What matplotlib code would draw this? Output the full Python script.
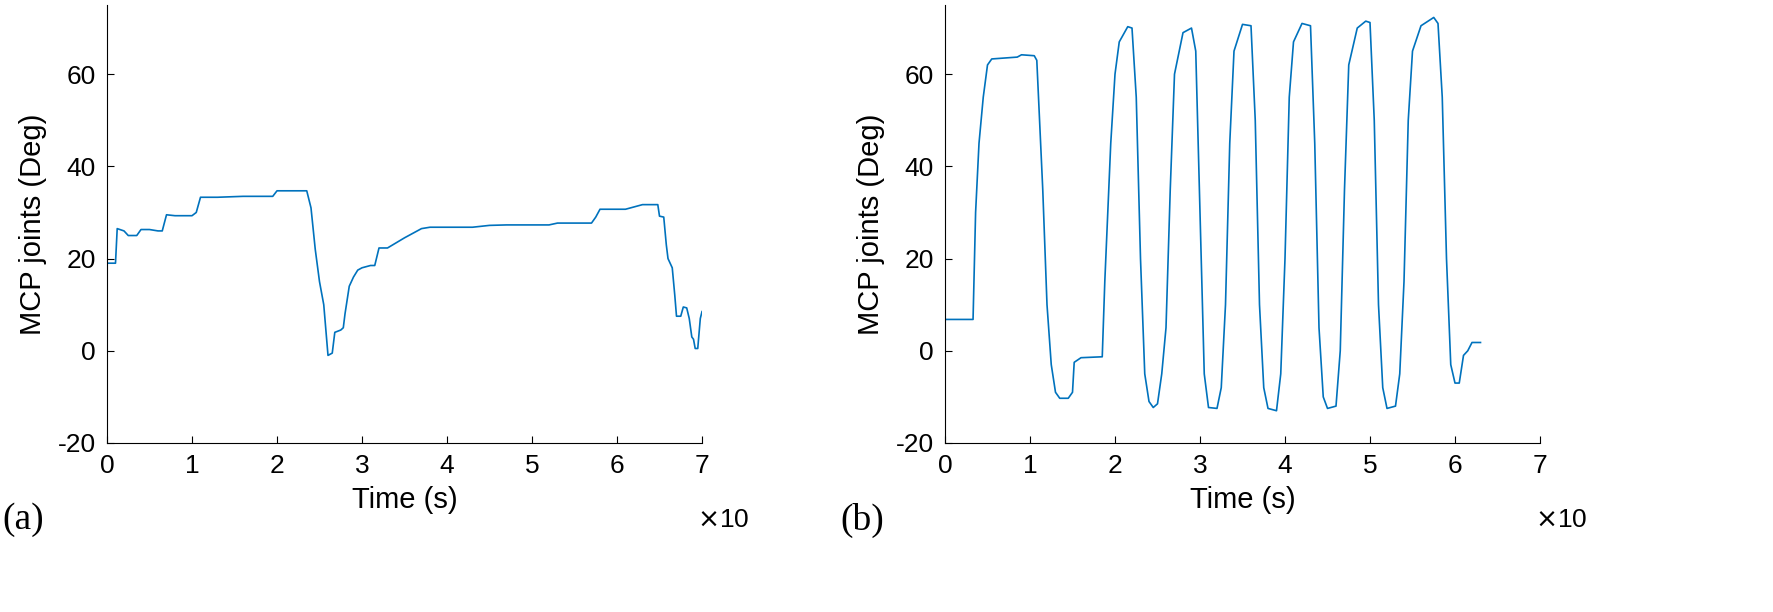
import matplotlib.pyplot as plt
import numpy as np

t_a = [0, 0.1, 0.12, 0.2, 0.25, 0.35, 0.4, 0.5, 0.6, 0.65, 0.7, 0.8, 1.0, 1.05, 1.1, 1.3, 1.6, 1.95, 2.0,
       2.35, 2.4, 2.45, 2.5, 2.55, 2.6, 2.65, 2.68, 2.75, 2.78, 2.8, 2.85, 2.9, 2.95, 3.0, 3.1, 3.15, 3.2,
       3.3, 3.5, 3.7, 3.8, 4.3, 4.5, 4.7, 5.0, 5.2, 5.3, 5.7, 5.75, 5.8, 6.1, 6.3, 6.48, 6.5, 6.55, 6.58,
       6.6, 6.65, 6.68, 6.7, 6.75, 6.78, 6.82, 6.85, 6.88, 6.9, 6.92, 6.95, 6.98, 7.0]
mcp_a = [19, 19, 26.5, 26, 25, 25, 26.3, 26.3, 26, 26, 29.5, 29.3, 29.3, 30, 33.3, 33.3, 33.5, 33.5, 34.7,
         34.7, 31, 22, 15, 10, -1, -0.5, 4, 4.5, 5, 8, 14, 16, 17.5, 18, 18.5, 18.5, 22.3,
         22.3, 24.5, 26.5, 26.8, 26.8, 27.2, 27.3, 27.3, 27.3, 27.7, 27.7, 29, 30.7, 30.7, 31.7, 31.7, 29.2, 29, 23,
         20, 18, 12, 7.5, 7.5, 9.5, 9.3, 7, 3, 2.5, 0.5, 0.5, 7, 8.5]

t_b = [0, 0.33, 0.36, 0.4, 0.45, 0.5, 0.55, 0.7, 0.85, 0.9, 1.05, 1.08, 1.15, 1.2, 1.25, 1.3, 1.35, 1.45,
       1.5, 1.52, 1.6, 1.85, 1.88, 1.95, 2.0, 2.05, 2.15, 2.2, 2.25, 2.3, 2.35, 2.4, 2.45, 2.5, 2.55, 2.6,
       2.65, 2.7, 2.8, 2.9, 2.95, 3.0, 3.05, 3.1, 3.2, 3.25, 3.3, 3.35, 3.4, 3.5, 3.6, 3.65, 3.7, 3.75,
       3.8, 3.9, 3.95, 4.0, 4.05, 4.1, 4.2, 4.3, 4.35, 4.4, 4.45, 4.5, 4.6, 4.65, 4.7, 4.75, 4.85, 4.95,
       5.0, 5.05, 5.1, 5.15, 5.2, 5.3, 5.35, 5.4, 5.45, 5.5, 5.6, 5.75, 5.8, 5.85, 5.9, 5.95, 6.0, 6.05,
       6.1, 6.15, 6.2, 6.3]
mcp_b = [6.8, 6.8, 30, 45, 55, 62, 63.3, 63.5, 63.7, 64.2, 64, 63, 35, 10, -3, -9, -10.3, -10.3,
         -9, -2.5, -1.5, -1.3, 15, 45, 60, 67, 70.3, 70, 55, 20, -5, -11, -12.3, -11.5, -5, 5,
         35, 60, 69, 70, 65, 30, -5, -12.3, -12.5, -8, 10, 45, 65, 70.8, 70.5, 50, 10, -8,
         -12.5, -13, -5, 20, 55, 67, 71, 70.5, 45, 5, -10, -12.5, -12, 0, 35, 62, 70, 71.5,
         71.2, 50, 10, -8, -12.5, -12, -5, 15, 50, 65, 70.5, 72.3, 71, 55, 20, -3, -7, -7,
         -1, 0, 1.8, 1.8]

plt.rcParams["font.family"] = "Liberation Sans"
plt.rcParams["axes.unicode_minus"] = False
fig = plt.figure(figsize=(17.73, 6.12), dpi=100)
panels = [((107, 595), t_a, mcp_a, "(a)", 2), ((945, 595), t_b, mcp_b, "(b)", 840)]
for (x0, w), t, y, tag, tagx in panels:
    ax = fig.add_axes([x0 / 1773, (612 - 443) / 612, w / 1773, 438 / 612])
    ax.plot(t, y, color="#0072BD", lw=1.2)
    ax.set_xlim(0, 7)
    ax.set_ylim(-20, 75)
    ax.set_yticks([-20, 0, 20, 40, 60])
    ax.set_xticks(range(8))
    ax.spines[["top", "right"]].set_visible(False)
    ax.tick_params(labelsize=19, direction="in", length=5, pad=8)
    ax.set_xlabel("Time (s)", fontsize=21, labelpad=6)
    ax.set_ylabel("MCP joints (Deg)", fontsize=21, labelpad=8)
    fig.text((x0 + w - 5) / 1773, 1 - 520 / 612, r"$\times$10", fontsize=19, ha="left", va="center")
    fig.text(tagx / 1773, 1 - 520 / 612, tag, fontsize=27, family="Liberation Serif", va="center")
fig.savefig("out.png", dpi=100)
